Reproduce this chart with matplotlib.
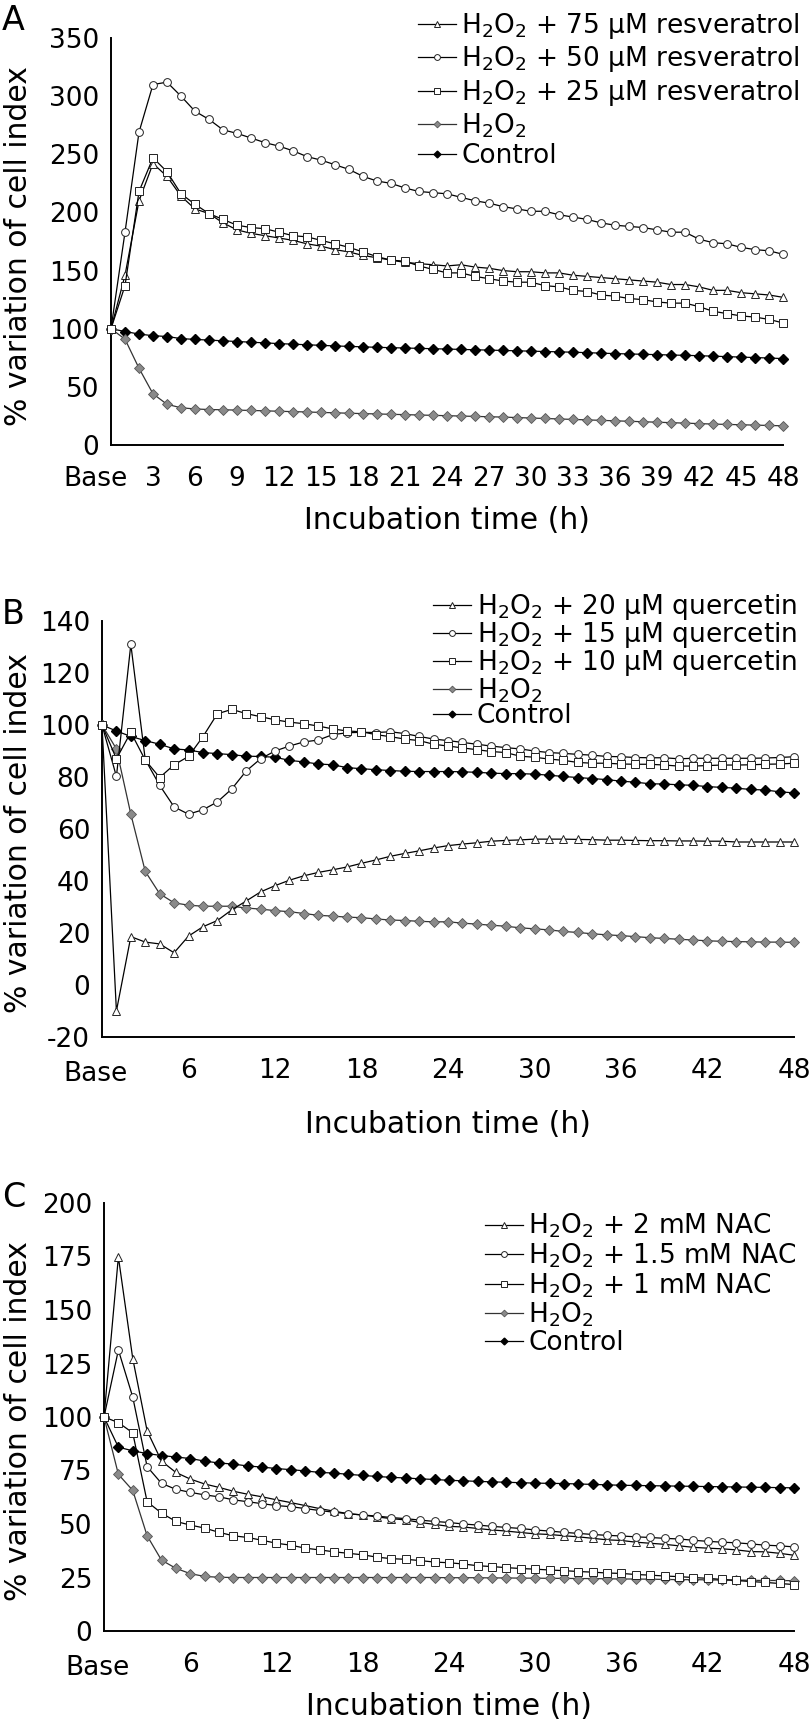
import numpy as np
import matplotlib
matplotlib.use("Agg")
import matplotlib.pyplot as plt
from matplotlib.transforms import ScaledTranslation

plt.rcParams['font.family'] = ['DejaVu Sans']
plt.rcParams['mathtext.fontset'] = 'dejavusans'
plt.rcParams['axes.unicode_minus'] = False

hours = np.arange(49)

# Panel A - resveratrol
res75 = [100, 146, 210, 242, 231, 214, 203, 199, 191, 185, 182, 180, 178, 176, 173, 171, 168, 166, 163, 161,
         159, 157, 156, 155, 154, 155, 153, 152, 150, 149, 149, 148, 148, 146, 145, 144, 143, 142, 141, 140,
         138, 138, 136, 133, 133, 131, 130, 129, 127]
res50 = [100, 183, 269, 310, 312, 300, 287, 280, 271, 268, 264, 260, 257, 253, 248, 245, 241, 237, 231, 227,
         225, 221, 218, 217, 216, 213, 210, 208, 205, 203, 201, 201, 198, 196, 194, 191, 189, 188, 187, 185,
         183, 183, 177, 174, 173, 170, 168, 167, 164]
res25 = [100, 137, 218, 247, 235, 216, 207, 199, 194, 189, 187, 186, 183, 180, 179, 176, 173, 170, 166, 162,
         159, 158, 154, 151, 148, 148, 145, 143, 141, 140, 140, 137, 136, 133, 132, 129, 128, 126, 125, 123,
         122, 122, 119, 115, 113, 111, 110, 108, 105]
h2o2_a = [100, 91, 66, 44, 35, 32, 31, 30.5, 30.3, 30, 29.7, 29.4, 29, 28.7, 28.4, 28, 27.7, 27.3, 27, 26.7,
          26.4, 26.1, 25.8, 25.5, 25.2, 24.9, 24.6, 24.3, 24, 23.6, 23.2, 22.8, 22.4, 22, 21.6, 21.2, 20.8, 20.4,
          20, 19.6, 19.2, 18.8, 18.4, 18, 17.7, 17.4, 17.1, 16.8, 16.5]
ctrl_a = [100, 97.6, 95.4, 94.0, 93.3, 91.5, 90.8, 90.2, 89.6, 89.0, 88.4, 87.8, 87.2, 86.7, 86.2, 85.7, 85.2,
          84.8, 84.4, 84.0, 83.7, 83.4, 83.1, 82.8, 82.5, 82.2, 81.9, 81.6, 81.3, 81.0, 80.7, 80.4, 80.1, 79.8,
          79.4, 79.0, 78.6, 78.3, 78.0, 77.7, 77.4, 77.1, 76.8, 76.4, 76.0, 75.6, 75.2, 74.8, 74.3]

# Panel B - quercetin
q20 = [100, -10, 18.6, 16.5, 15.8, 12.4, 18.8, 22.4, 24.8, 28.9, 32.3, 35.8, 38.2, 40.3, 42, 43.3, 44.3, 45.4,
       46.8, 48.1, 49.5, 50.6, 51.6, 52.7, 53.6, 54.2, 54.7, 55.3, 55.6, 55.8, 56.1, 56.1, 56.1, 56, 55.9, 55.7,
       55.7, 55.6, 55.5, 55.5, 55.4, 55.4, 55.3, 55.3, 55, 55, 55, 55, 55]
q15 = [100, 80.2, 131, 86.7, 76.8, 68.5, 65.7, 67.4, 70.4, 75.4, 82.3, 87, 90, 91.9, 93.5, 94.2, 96.3, 97, 97.2,
       97.1, 97.4, 96.7, 95.6, 94.6, 94, 93.3, 92.6, 91.9, 91.3, 90.8, 90, 89.4, 89.1, 88.7, 88.4, 87.9, 87.8,
       87.5, 87.4, 87.4, 87, 87.2, 87.2, 87.2, 87.2, 87.2, 87.3, 87.5, 87.8]
q10 = [100, 87, 97.2, 86.5, 79.8, 84.7, 87.9, 95.5, 104.3, 106, 104.4, 103.2, 102, 101.1, 100.5, 99.6, 98.5,
       97.7, 97.4, 96.3, 95.5, 94.6, 94, 92.6, 91.9, 91.2, 90.5, 89.8, 89.4, 88, 87.6, 86.9, 86.4, 85.6, 85.3,
       85.3, 85, 84.9, 84.9, 84.6, 84.2, 84.2, 84.4, 84.6, 84.6, 84.7, 84.9, 85, 85.3]
h2o2_b = [100, 90.8, 65.7, 43.7, 35.1, 31.6, 30.7, 30.3, 30.3, 30.3, 29.6, 29.2, 28.6, 28.2, 27.5, 26.8, 26.5,
          26.1, 25.9, 25.4, 25, 24.8, 24.5, 24.3, 24.3, 23.8, 23.4, 23, 22.6, 22, 21.6, 21.2, 20.6, 20.2, 19.7,
          19.3, 19, 18.6, 18.2, 17.9, 17.6, 17.3, 17, 16.8, 16.7, 16.6, 16.5, 16.5, 16.4]
ctrl_b = [100, 97.7, 95.6, 94, 92.6, 90.8, 90.4, 89.4, 89, 88.6, 88, 87.9, 87.6, 86.4, 85.8, 85, 84.7, 83.6,
          83.2, 82.8, 82.5, 82.2, 82.1, 82.1, 82.1, 82, 81.8, 81.5, 81.3, 81.3, 81.1, 80.7, 80.2, 79.8, 79.4, 79,
          78.4, 78, 77.4, 77.3, 77, 76.8, 76.3, 76, 75.7, 75.2, 75, 74.3, 73.9]

# Panel C - NAC
nac2 = [100, 174.8, 127.3, 93.5, 79.4, 74.1, 71, 68.7, 67.1, 65.3, 63.9, 62.7, 61.3, 60, 58.6, 57.2, 56, 54.8,
        54.2, 53.3, 52.5, 51.9, 50.7, 49.8, 48.9, 48.6, 47.9, 47.2, 46.7, 46, 45.4, 45.1, 44.5, 44, 43.3, 42.6,
        42.3, 41.5, 41, 40.5, 39.8, 39.1, 38.7, 38.4, 37.9, 37.1, 37, 36.3, 35.4]
nac15 = [100, 131.3, 109.3, 76.8, 69, 66.2, 64.8, 63.6, 62.7, 61.3, 60.4, 59.5, 58.6, 58.1, 57.2, 56.3, 55.5,
         54.8, 54.2, 53.7, 53, 52.5, 51.8, 51.2, 50.7, 50, 49.5, 48.9, 48.4, 47.9, 47.2, 46.7, 46.1, 45.6, 45.1,
         44.7, 44.4, 44, 43.7, 43.3, 43, 42.4, 41.9, 41.5, 41.2, 40.7, 40.1, 39.8, 39.3]
nac1 = [100, 97.4, 92.6, 60.4, 55.1, 51.2, 49.5, 48.1, 46.1, 44.5, 43.7, 42.4, 41, 40.1, 38.7, 37.9, 37, 36.3,
        35.6, 34.5, 33.8, 33.5, 32.9, 32.2, 31.9, 31.3, 30.5, 30.1, 29.6, 29.2, 28.9, 28.5, 28.2, 27.8, 27.5,
        27.1, 26.9, 26.4, 26.1, 25.7, 25.4, 25, 24.6, 24.1, 23.6, 23.1, 22.7, 22.2, 21.7]
h2o2_c = [100, 73.2, 65.7, 44.5, 33.1, 29.3, 26.8, 25.5, 25.1, 25.0, 25.0, 25.0, 25.0, 25.0, 25.0, 25.0, 25.0,
          25.0, 25.0, 25.0, 25.0, 25.0, 25.0, 25.0, 24.9, 24.9, 24.9, 24.8, 24.8, 24.7, 24.7, 24.6, 24.6, 24.5,
          24.5, 24.4, 24.3, 24.3, 24.2, 24.1, 24.0, 24.0, 23.9, 23.8, 23.8, 23.7, 23.6, 23.6, 23.5]
ctrl_c = [100, 85.9, 84.2, 82.9, 82, 81.3, 80.6, 79.4, 78.5, 78, 77.1, 76.6, 75.9, 75.4, 74.8, 74.1, 73.8, 73.2,
          72.7, 72.2, 71.8, 71.5, 71.1, 70.8, 70.4, 70.2, 69.9, 69.7, 69.5, 69.3, 69.1, 69, 68.9, 68.7, 68.5,
          68.3, 68.1, 68, 67.9, 67.8, 67.7, 67.6, 67.5, 67.4, 67.3, 67.2, 67.1, 67, 66.9]

labels_a = ["H$_2$O$_2$ + 75 µM resveratrol", "H$_2$O$_2$ + 50 µM resveratrol", "H$_2$O$_2$ + 25 µM resveratrol"]
labels_b = ["H$_2$O$_2$ + 20 µM quercetin", "H$_2$O$_2$ + 15 µM quercetin", "H$_2$O$_2$ + 10 µM quercetin"]
labels_c = ["H$_2$O$_2$ + 2 mM NAC", "H$_2$O$_2$ + 1.5 mM NAC", "H$_2$O$_2$ + 1 mM NAC"]

W, H = 812, 1722
fig = plt.figure(figsize=(W / 100, H / 100), dpi=100)


def px_axes(left, right, top, bottom):
    return fig.add_axes([left / W, 1 - bottom / H, (right - left) / W, (bottom - top) / H])


def draw_panel(ax, treat, h2o2, ctrl, labels, ylim, yticks, xticks, letter, letter_y, leg_right, leg_top,
               leg_space, base_dx, base_dy, xlab_top):
    lw = 0.9
    h_ctrl, = ax.plot(hours, ctrl, color='black', lw=lw, marker='D', ms=4.6, mfc='black', mec='black',
                      clip_on=False, zorder=3)
    h_h2o2, = ax.plot(hours, h2o2, color='#333333', lw=lw, marker='D', ms=4.6, mfc='#8a8a8a', mec='#555555',
                      mew=0.6, clip_on=False, zorder=3)
    handles = []
    for vals, mk in zip(treat, ['^', 'o', 's']):
        h, = ax.plot(hours, vals, color='black', lw=lw, marker=mk, ms=5.6, mfc='white', mec='#222222',
                     mew=0.7, clip_on=False, zorder=4)
        handles.append(h)
    handles = handles + [h_h2o2, h_ctrl]
    names = labels + ["H$_2$O$_2$", "Control"]

    ax.set_xlim(0, 48)
    ax.set_ylim(*ylim)
    ax.set_yticks(yticks)
    ax.set_xticks(xticks)
    ax.set_xticklabels(["Base"] + [str(t) for t in xticks[1:]])
    ax.tick_params(length=0, labelsize=19)
    ax.tick_params(axis='y', pad=8.5)
    ax.tick_params(axis='x', pad=15)
    lab0 = ax.get_xticklabels()[0]
    lab0.set_transform(lab0.get_transform() + ScaledTranslation(base_dx / 72, base_dy / 72, fig.dpi_scale_trans))
    for s in ['top', 'right']:
        ax.spines[s].set_visible(False)
    for s in ['left', 'bottom']:
        ax.spines[s].set_linewidth(1.4)
    ax.set_ylabel("% variation of cell index", fontsize=21.5)
    ax.set_xlabel("Incubation time (h)", fontsize=21.5)

    # pixel geometry of this axes
    left = ax.get_position().x0 * W
    width = ax.get_position().width * W
    bottom = (1 - ax.get_position().y0) * H
    height = ax.get_position().height * H
    ax.yaxis.set_label_coords(-(left - 33) / width, 0.49)
    ax.xaxis.set_label_coords(0.5, -(xlab_top - bottom) / height)

    ax.legend(handles, names, loc='upper right', bbox_to_anchor=(leg_right / W, 1 - leg_top / H),
              bbox_transform=fig.transFigure, frameon=False, fontsize=19, handlelength=1.45,
              handletextpad=0.2, labelspacing=leg_space, borderpad=0, borderaxespad=0, markerscale=0.75)
    fig.text(2 / W, 1 - letter_y / H, letter, fontsize=24, va='baseline', ha='left')


axA = px_axes(111, 783, 38, 445)
draw_panel(axA, [res75, res50, res25], h2o2_a, ctrl_a, labels_a, (0, 350), range(0, 351, 50),
           list(range(0, 49, 3)), "A", 30, 800, 11, 0.13, -11.5, 0, 506)

axB = px_axes(102, 794, 621, 1037)
draw_panel(axB, [q20, q15, q10], h2o2_b, ctrl_b, labels_b, (-20, 140), range(-20, 141, 20),
           list(range(0, 49, 6)), "B", 624, 797, 592, -0.07, -5, -2, 1110)

axC = px_axes(104, 794, 1203, 1631)
draw_panel(axC, [nac2, nac15, nac1], h2o2_c, ctrl_c, labels_c, (0, 200), range(0, 201, 25),
           list(range(0, 49, 6)), "C", 1207, 797, 1212, 0.04, -5, -2, 1692)

fig.savefig("out.png", dpi=100)
